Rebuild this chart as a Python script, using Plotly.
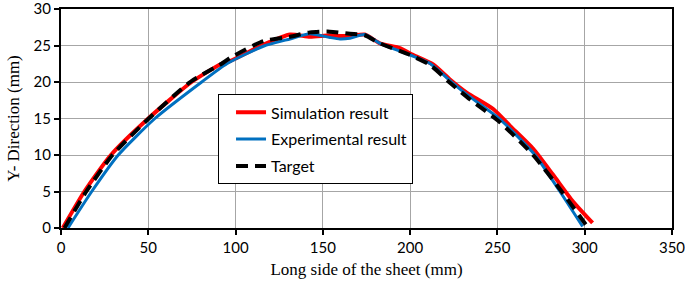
import plotly.graph_objects as go

# Simulation result (red)
sim_x = [1, 13.4, 28.6, 50, 74.8, 92, 96.8, 115.9, 131.2, 142.6, 154, 159.8, 165.5, 174, 182.7, 194.2, 200, 213.2, 222.8, 232.4, 247.6, 257.2, 270.5, 282, 293.4, 304.5]
sim_y = [0, 5, 10, 15, 20, 22.5, 22.85, 25.1, 26.5, 26.2, 26.4, 26.3, 26.3, 26.5, 25.3, 24.65, 23.9, 22.4, 20.35, 18.55, 16.3, 14.0, 10.85, 7.25, 3.6, 0.7]

# Experimental result (blue)
exp_x = [4, 17.6, 32.8, 53.8, 80.6, 95, 115.9, 131.2, 142.6, 154, 159.8, 165.5, 174, 182.7, 200, 211.6, 222.8, 232.4, 251.4, 271.5, 285.8, 298.8]
exp_y = [0, 5, 10, 15, 20, 22.5, 24.9, 25.9, 26.6, 26.1, 25.9, 26.0, 26.5, 25.3, 23.7, 22.5, 20.2, 18.3, 14.9, 10, 5, 0.2]

# Target (black dashed)
tgt_x = [2, 14.5, 29.5, 50.3, 74, 92, 96.8, 115.9, 131.2, 142.6, 154, 165.5, 174, 182.7, 200, 211.6, 222.8, 234.4, 251.4, 270.4, 286.8, 302]
tgt_y = [0, 5, 10, 15, 20, 22.5, 23.3, 25.6, 26.2, 26.8, 26.9, 26.6, 26.4, 25.3, 23.7, 22.3, 19.9, 17.6, 14.5, 10, 5, 0]

names = ["Simulation result", "Experimental result", "Target"]

fig = go.Figure()
fig.add_trace(go.Scatter(x=sim_x, y=sim_y, mode="lines", name=names[0], legendgroup="a",
                         line=dict(color="#ff0000", width=4, shape="spline", smoothing=0.6)))
fig.add_trace(go.Scatter(x=exp_x, y=exp_y, mode="lines", name=names[1], legendgroup="b",
                         line=dict(color="#0070c0", width=3, shape="spline", smoothing=0.6)))
fig.add_trace(go.Scatter(x=tgt_x, y=tgt_y, mode="lines", name=names[2], legendgroup="c",
                         line=dict(color="black", width=4, dash="12px,7px", shape="spline", smoothing=0.6)))

tick_font = dict(family="Lato, Open Sans, sans-serif", size=15, color="black")
title_font = dict(family="Liberation Serif, Times New Roman, serif", size=17, color="black")

fig.update_layout(
    width=685, height=286,
    margin=dict(l=61, r=13, t=9, b=58),
    paper_bgcolor="white", plot_bgcolor="white",
    showlegend=True,
    legend=dict(x=0.257, y=0.61, xanchor="left", yanchor="top",
                bordercolor="black", borderwidth=1, bgcolor="white",
                font=dict(family="Lato, Open Sans, sans-serif", size=16, color="black"),
                traceorder="grouped", tracegroupgap=3, indentation=12),
    xaxis=dict(range=[0, 350], dtick=50, tick0=0, showgrid=True, gridcolor="#a6a6a6", gridwidth=1,
               showline=True, linecolor="black", linewidth=2, mirror=True,
               ticks="outside", ticklen=5, tickwidth=2, tickcolor="black",
               tickfont=tick_font, zeroline=False, automargin=False,
               ticklabeloverflow="allow",
               title=dict(text="Long side of the sheet (mm)", font=title_font, standoff=8)),
    yaxis=dict(range=[0, 30], dtick=5, tick0=0, showgrid=True, gridcolor="#a6a6a6", gridwidth=1,
               showline=True, linecolor="black", linewidth=2, mirror=True,
               ticks="outside", ticklen=5, tickwidth=2, tickcolor="black",
               tickfont=tick_font, zeroline=False, automargin=False,
               ticklabeloverflow="allow",
               title=dict(text="Y- Direction (mm)", font=title_font, standoff=10)),
)

fig.write_html("out.html", config={"displayModeBar": False},
               post_script="document.body.style.margin='0';document.body.style.overflow='hidden';")
